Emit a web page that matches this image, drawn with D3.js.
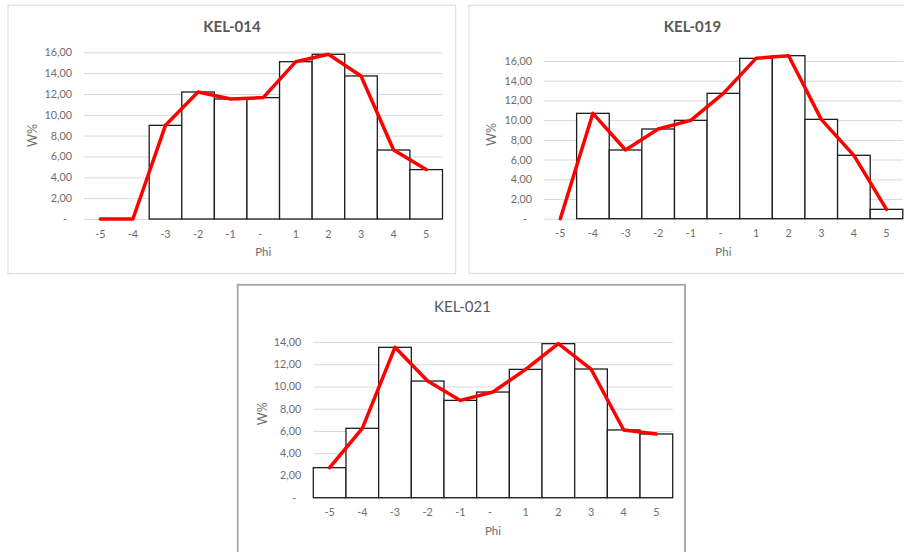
<!DOCTYPE html>
<html>
<head>
<meta charset="utf-8">
<script src="https://cdn.jsdelivr.net/npm/d3@7/dist/d3.min.js"></script>
<style>
  html, body { margin: 0; padding: 0; background: #fff; }
  svg { display: block; }
  text { font-family: Lato, "Open Sans", sans-serif; }
</style>
</head>
<body>
<svg id="chart" width="904" height="552"></svg>
<script>
// Phi size classes (the zero class is written as "-")
const phiLabels = ["-5", "-4", "-3", "-2", "-1", "-", "1", "2", "3", "4", "5"];

// Weight percent per Phi class for each sample
const kel014W = [0, 0, 8.99, 12.19, 11.52, 11.65, 15.10, 15.81, 13.73, 6.62, 4.74];
const kel019W = [0, 10.69, 6.97, 9.10, 9.98, 12.72, 16.27, 16.54, 10.08, 6.43, 0.95];
const kel021W = [2.70, 6.24, 13.52, 10.49, 8.75, 9.50, 11.54, 13.85, 11.57, 6.09, 5.73];

// Value-axis tick labels
const yTicksTo16 = [0, 2, 4, 6, 8, 10, 12, 14, 16];
const yTicksTo14 = [0, 2, 4, 6, 8, 10, 12, 14];

const svg = d3.select("#chart");

// Zero is shown as "-", everything else with two decimals and a decimal comma
const fmtW = d => d === 0 ? "-" : d3.format(".2f")(d).replace(".", ",");

const panels = [
  {
    title: "KEL-014", titleWeight: "bold", values: kel014W, ticks: yTicksTo16,
    box: { x: 8, y: 5.3, w: 447.7, h: 268.4, stroke: "#d9d9d9", sw: 1 },
    plot: { l: 84, r: 442.5, y0: 219, yTop: 52.3 },
    titleX: 232, titleY: 32, yTitleX: 36.5, yTitleY: 135.5, zeroDx: -5
  },
  {
    title: "KEL-019", titleWeight: "bold", values: kel019W, ticks: yTicksTo16,
    box: { x: 469, y: 5.3, w: 460, h: 268, stroke: "#d9d9d9", sw: 1 },
    plot: { l: 544, r: 902.8, y0: 218.7, yTop: 61 },
    titleX: 692.5, titleY: 32, yTitleX: 496, yTitleY: 134.5, zeroDx: -5
  },
  {
    title: "KEL-021", titleWeight: "normal", values: kel021W, ticks: yTicksTo14,
    box: { x: 237.7, y: 284.8, w: 447.3, h: 300, stroke: "#a6a6a6", sw: 1.8 },
    plot: { l: 313.3, r: 672.7, y0: 497.7, yTop: 342 },
    titleX: 462.5, titleY: 311.5, yTitleX: 267.3, yTitleY: 413.7, zeroDx: -5
  }
];

panels.forEach(p => {
  const g = svg.append("g");

  // chart frame
  g.append("rect")
    .attr("x", p.box.x).attr("y", p.box.y)
    .attr("width", p.box.w).attr("height", p.box.h)
    .attr("fill", "#fff")
    .attr("stroke", p.box.stroke).attr("stroke-width", p.box.sw);

  const maxTick = d3.max(p.ticks);
  const y = d3.scaleLinear().domain([0, maxTick]).range([p.plot.y0, p.plot.yTop]);
  const x = d3.scaleBand().domain(phiLabels).range([p.plot.l, p.plot.r])
    .paddingInner(0).paddingOuter(0);
  const bw = x.bandwidth();

  // horizontal gridlines
  const grid = g.append("g")
    .attr("transform", `translate(${p.plot.l},0)`)
    .call(d3.axisLeft(y).tickValues(p.ticks).tickSize(-(p.plot.r - p.plot.l)).tickFormat(""));
  grid.select(".domain").remove();
  grid.selectAll(".tick line").attr("stroke", "#d9d9d9").attr("stroke-width", 1);

  // value axis labels
  const yAx = g.append("g")
    .attr("transform", `translate(${p.plot.l},0)`)
    .call(d3.axisLeft(y).tickValues(p.ticks).tickSize(0).tickPadding(12).tickFormat(fmtW));
  yAx.select(".domain").remove();
  yAx.selectAll("text")
    .attr("fill", "#6e6e6e")
    .style("font-size", "10.8px")
    .style("font-family", "Lato, 'Open Sans', sans-serif")
    .attr("dx", d => d === 0 ? p.zeroDx : 0);

  // category axis labels
  const xAx = g.append("g")
    .attr("transform", `translate(0,${p.plot.y0})`)
    .call(d3.axisBottom(x).tickSize(0).tickPadding(11));
  xAx.select(".domain").remove();
  xAx.selectAll("text")
    .attr("fill", "#6e6e6e")
    .style("font-size", "10.8px")
    .style("font-family", "Lato, 'Open Sans', sans-serif")
    .attr("dx", d => d === "-" ? -3 : 0);

  const rows = phiLabels.map((c, i) => ({ c, v: p.values[i] }));

  // histogram bars
  g.append("g").selectAll("rect")
    .data(rows.filter(d => d.v > 0))
    .join("rect")
    .attr("x", d => x(d.c))
    .attr("y", d => y(d.v))
    .attr("width", bw)
    .attr("height", d => y(0) - y(d.v))
    .attr("fill", "#fff")
    .attr("stroke", "#1e1e1e")
    .attr("stroke-width", 1.3);

  // frequency curve through the class centres
  const line = d3.line()
    .x(d => x(d.c) + bw / 2)
    .y(d => y(d.v));
  g.append("path")
    .datum(rows)
    .attr("d", line)
    .attr("fill", "none")
    .attr("stroke", "#ff0000")
    .attr("stroke-width", 3.5)
    .attr("stroke-linejoin", "round")
    .attr("stroke-linecap", "round");

  // titles
  g.append("text")
    .attr("x", p.titleX).attr("y", p.titleY)
    .attr("text-anchor", "middle")
    .attr("fill", "#595959")
    .style("font-size", "15px")
    .style("font-weight", p.titleWeight)
    .text(p.title);

  g.append("text")
    .attr("x", (p.plot.l + p.plot.r) / 2).attr("y", p.plot.y0 + 37)
    .attr("text-anchor", "middle")
    .attr("fill", "#6e6e6e")
    .style("font-size", "11.5px")
    .text("Phi");

  g.append("text")
    .attr("transform", `translate(${p.yTitleX},${p.yTitleY}) rotate(-90)`)
    .attr("text-anchor", "middle")
    .attr("fill", "#6e6e6e")
    .style("font-size", "12.5px")
    .text("W%");
});
</script>
</body>
</html>
